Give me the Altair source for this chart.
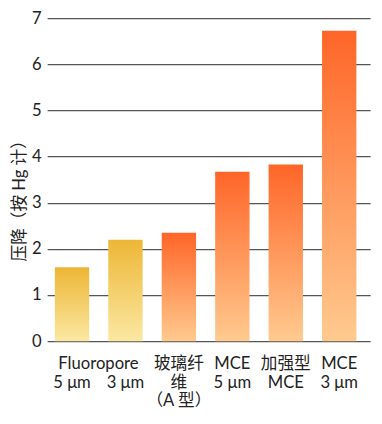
import altair as alt
import pandas as pd

# Data
labels = ["Fluoropore 5 μm", "Fluoropore 3 μm", "玻璃纤维（A 型）", "MCE 5 μm", "加强型 MCE", "MCE 3 μm"]
axis_text = [" |5 μm", " |3 μm", "玻璃纤|维|（A 型）", "MCE|5 μm", "加强型|MCE", "MCE|3 μm"]
values = [1.6, 2.2, 2.35, 3.67, 3.83, 6.73]
groups = ["yellow", "yellow", "orange", "orange", "orange", "orange"]
group_title = "Fluoropore"

df = pd.DataFrame({"name": labels, "tick": axis_text, "value": values, "group": groups})
title_df = pd.DataFrame({"tick": [axis_text[0]], "text": [group_title]})

FONT = "Lato, 'Noto Sans CJK SC', sans-serif"

yellow = alt.Gradient(
    gradient="linear",
    stops=[alt.GradientStop(color="#EDB636", offset=0),
           alt.GradientStop(color="#FBE8A2", offset=1)],
    x1=0, x2=0, y1=0, y2=1,
)
orange = alt.Gradient(
    gradient="linear",
    stops=[alt.GradientStop(color="#FF6528", offset=0),
           alt.GradientStop(color="#FFCA8F", offset=1)],
    x1=0, x2=0, y1=0, y2=1,
)

xscale = alt.Scale(paddingInner=0.357, paddingOuter=0.2, align=0.36)
xenc = alt.X("tick:N", sort=axis_text, scale=xscale,
             axis=alt.Axis(title=None, labelAngle=0, domain=False, ticks=False,
                           labelExpr="split(datum.label, '|')",
                           labelPadding=15, labelFontSize=17, labelLineHeight=19,
                           labelColor="#222", labelFont=FONT, labelBaseline="top"))
yenc = alt.Y("value:Q", scale=alt.Scale(domain=[0, 7]),
             axis=alt.Axis(title="压降（按 Hg 计）", values=[0, 1, 2, 3, 4, 5, 6, 7],
                           domain=False, ticks=False, grid=True,
                           gridColor="#555", gridWidth=1.2, gridOpacity=1,
                           labelFontSize=17, labelColor="#222", labelFont=FONT,
                           labelPadding=6,
                           titleFont=FONT, titleFontSize=17, titleFontWeight="normal",
                           titleColor="#222", titleX=-28, titleY=182,
                           titleAlign="center", titleBaseline="middle"))

base = alt.Chart(df)
bars_y = base.transform_filter(alt.datum.group == "yellow").mark_bar(color=yellow).encode(x=xenc, y=yenc)
bars_o = base.transform_filter(alt.datum.group == "orange").mark_bar(color=orange).encode(x=xenc, y=yenc)

group_label = alt.Chart(title_df).mark_text(
    dx=27, baseline="top", fontSize=17, font=FONT, color="#222"
).encode(x=alt.X("tick:N", sort=axis_text), y=alt.value(345), text="text:N")

chart = alt.layer(bars_y, bars_o, group_label).properties(
    width=330, height=330,
    autosize=alt.AutoSizeParams(type="none"),
    padding={"left": 40, "top": 6, "right": 4, "bottom": 70},
).configure_view(stroke=None).configure_axis(labelFont=FONT)

chart.save("out.html", embed_options={"renderer": "svg", "actions": False})
